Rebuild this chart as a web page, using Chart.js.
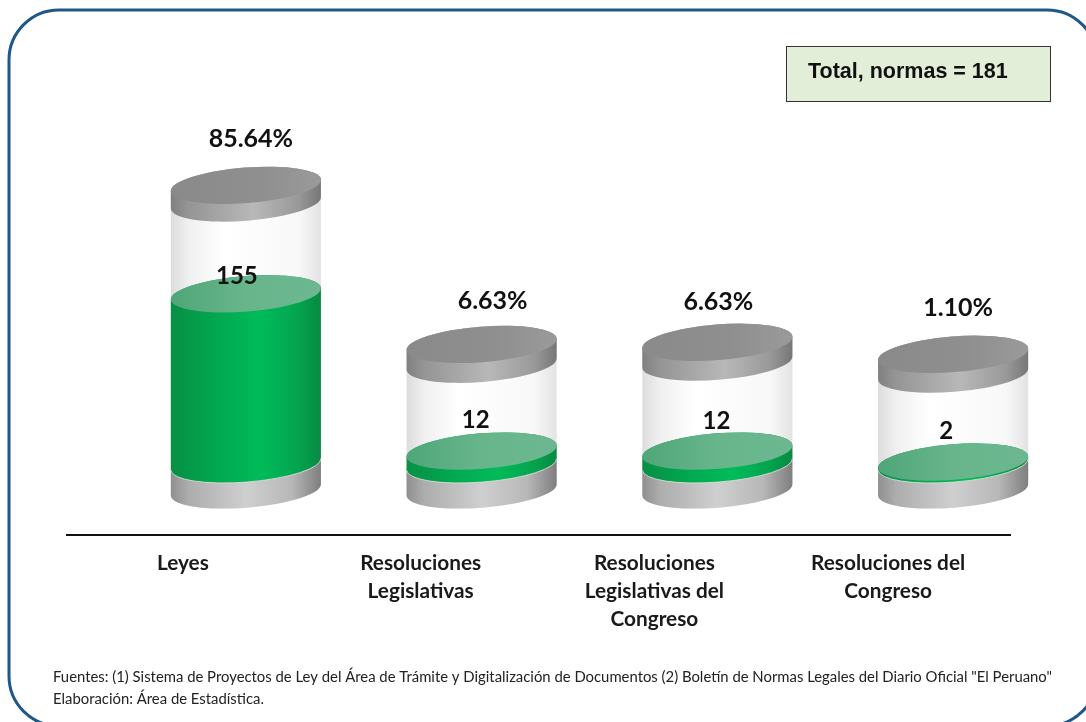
<!DOCTYPE html>
<html>
<head>
<meta charset="utf-8">
<title>Normas</title>
<style>
  html, body { margin: 0; padding: 0; background: #fff; overflow: hidden; }
  canvas { display: block; }
</style>
<script src="https://cdn.jsdelivr.net/npm/chart.js@4/dist/chart.umd.min.js"></script>
</head>
<body>
<canvas id="normasChart" width="1086" height="722"></canvas>
<script>
// values
var categorias = [
  "Leyes",
  ["Resoluciones", "Legislativas"],
  ["Resoluciones", "Legislativas del", "Congreso"],
  ["Resoluciones del", "Congreso"]
];
var normas = [155, 12, 12, 2];
var porcentajes = ["85.64%", "6.63%", "6.63%", "1.10%"];

// the rest of each cylinder, in the same units as normas
var zocalo = [23.3, 23.3, 23.3, 23.3];
var vidrio = [82.6, 79, 80.9, 80];
var tapa = [16, 18, 18, 18];

var totalTexto = "Total, normas = 181";
var fuentes = 'Fuentes: (1) Sistema de Proyectos de Ley del Área de Trámite y Digitalización de Documentos (2) Boletín de Normas Legales del Diario Oficial "El Peruano"';
var elaboracion = "Elaboración: Área de Estadística.";

// layout of the drawing, in pixels
var desplazaCilindro = 61;
var semiAlto = 18.7;
var inclinacion = -4.5 * Math.PI / 180;
var ajustePct = [[5, -28], [11, -25], [1, -22], [5, -28]];
var ajusteNum = [[-9, -36], [-6, -50], [-1, -49], [-7, -50]];
var ajusteEtiqueta = [-2, 0, -2, -4];

function ellipse(ctx, cx, nivel, a, desde, hasta) {
  ctx.ellipse(cx, nivel - semiAlto, a, 17.8, inclinacion, desde, hasta, false);
}

function cuerpo(ctx, cx, a, nivelAbajo, nivelArriba) {
  ctx.beginPath();
  ellipse(ctx, cx, nivelAbajo, a, 0, Math.PI);
  ellipse(ctx, cx, nivelArriba, a, Math.PI, 2 * Math.PI);
  ctx.closePath();
}

function disco(ctx, cx, a, nivel) {
  ctx.beginPath();
  ellipse(ctx, cx, nivel, a, 0, 2 * Math.PI);
  ctx.closePath();
}

function degradado(ctx, cx, a, colores) {
  var g = ctx.createLinearGradient(cx - a, 0, cx + a, 0);
  colores.forEach(function(c) { g.addColorStop(c[0], c[1]); });
  return g;
}

var cilindros = {
  id: "cilindros",
  afterDatasetsDraw: function(chart) {
    var ctx = chart.ctx;
    var m0 = chart.getDatasetMeta(0).data;
    var m1 = chart.getDatasetMeta(1).data;
    var m2 = chart.getDatasetMeta(2).data;
    var m3 = chart.getDatasetMeta(3).data;

    ctx.save();
    m0.forEach(function(bar, i) {
      var cx = bar.x + desplazaCilindro;
      var a = bar.width / 2 + 0.3;

      // glass
      cuerpo(ctx, cx, a, bar.base, m3[i].y);
      ctx.fillStyle = degradado(ctx, cx, a, [[0, "#dcdcdc"], [0.12, "#f0f0f0"], [0.35, "#ffffff"], [0.85, "#f8f8f8"], [1, "#e2e2e2"]]);
      ctx.fill();

      // grey base
      cuerpo(ctx, cx, a, bar.base, m0[i].y);
      ctx.fillStyle = degradado(ctx, cx, a, [[0, "#8f8f8f"], [0.12, "#adadad"], [0.5, "#cfcfcf"], [0.8, "#b8b8b8"], [1, "#7e7e7e"]]);
      ctx.fill();

      // green fill
      cuerpo(ctx, cx, a, m0[i].y, m1[i].y);
      ctx.fillStyle = degradado(ctx, cx, a, [[0, "#078f45"], [0.3, "#02a850"], [0.6, "#00bb5a"], [0.85, "#04a34e"], [1, "#068a42"]]);
      ctx.fill();
      ctx.beginPath();
      ellipse(ctx, cx, m0[i].y, a, 0, Math.PI);
      ctx.strokeStyle = "rgba(235,225,225,0.8)";
      ctx.lineWidth = 1;
      ctx.stroke();

      // surface of the green fill
      disco(ctx, cx, a, m1[i].y);
      ctx.fillStyle = degradado(ctx, cx, a, [[0, "#4fa678"], [0.5, "#68b58c"], [1, "#6cb78f"]]);
      ctx.fill();

      // grey lid
      cuerpo(ctx, cx, a, m2[i].y, m3[i].y);
      ctx.fillStyle = degradado(ctx, cx, a, [[0, "#808080"], [0.12, "#959595"], [0.55, "#b8b8b8"], [0.85, "#999999"], [1, "#767676"]]);
      ctx.fill();
      disco(ctx, cx, a, m3[i].y);
      ctx.fillStyle = degradado(ctx, cx, a, [[0, "#8a8a8a"], [0.6, "#8f8f8f"], [1, "#9a9a9a"]]);
      ctx.fill();

      // value and percentage
      ctx.fillStyle = "#111";
      ctx.textAlign = "center";
      ctx.textBaseline = "middle";
      ctx.font = "bold 24px Lato";
      ctx.fillText(normas[i], cx + ajusteNum[i][0], m1[i].y + ajusteNum[i][1]);
      ctx.font = "bold 25px Lato";
      ctx.fillText(porcentajes[i], cx + ajustePct[i][0], m3[i].y - 2 * semiAlto + ajustePct[i][1]);
    });
    ctx.restore();
  }
};

var marco = {
  id: "marco",
  beforeDraw: function(chart) {
    var ctx = chart.ctx;

    // category labels sit off the tick centres in the original
    var items = chart.scales.x.getLabelItems();
    items.forEach(function(item, i) {
      if (!item.movido) {
        item.options.translation[0] += ajusteEtiqueta[i];
        item.movido = true;
      }
    });

    ctx.save();
    ctx.beginPath();
    ctx.roundRect(9, 10, 1088, 716, 50);
    ctx.strokeStyle = "#1f5788";
    ctx.lineWidth = 3;
    ctx.stroke();

    ctx.fillStyle = "#e3eed9";
    ctx.strokeStyle = "#333";
    ctx.lineWidth = 1;
    ctx.fillRect(786, 46, 264, 55);
    ctx.strokeRect(786.5, 46.5, 264, 55);

    ctx.fillStyle = "#111";
    ctx.textBaseline = "middle";
    ctx.textAlign = "left";
    ctx.font = "bold 21.5px 'Liberation Sans'";
    ctx.fillText(totalTexto, 808, 72);

    ctx.font = "14.87px Lato";
    ctx.fillStyle = "#222";
    ctx.fillText(fuentes, 53, 677);
    ctx.fillText(elaboracion, 53, 699);
    ctx.restore();
  }
};

function serie(nombre, datos) {
  return { label: nombre, data: datos, backgroundColor: "transparent", borderWidth: 0 };
}

var chartData = {
  labels: categorias,
  datasets: [
    serie("Zócalo", zocalo),
    serie("Normas", normas),
    serie("Vidrio", vidrio),
    serie("Tapa", tapa)
  ]
};

var options = {
  responsive: false,
  animation: false,
  events: [],
  layout: { padding: { left: 67, right: 76, top: 155, bottom: 0 } },
  datasets: { bar: { categoryPercentage: 0.636, barPercentage: 1 } },
  plugins: { legend: { display: false }, tooltip: { enabled: false }, title: { display: false } },
  scales: {
    x: {
      stacked: true,
      afterFit: function(scale) { scale.height = 187; },
      grid: { display: false, drawTicks: false },
      border: { display: true, color: "#111", width: 2 },
      ticks: {
        padding: 14,
        maxRotation: 0,
        autoSkip: false,
        color: "#1a1a1a",
        font: { family: "Lato", weight: "bold", size: 20.8, lineHeight: 1.35 }
      }
    },
    y: { stacked: true, display: false, min: -24, max: 321.5 }
  }
};

var ctx = document.getElementById("normasChart").getContext("2d");
new Chart(ctx, { type: "bar", data: chartData, options: options, plugins: [marco, cilindros] });
</script>
</body>
</html>
